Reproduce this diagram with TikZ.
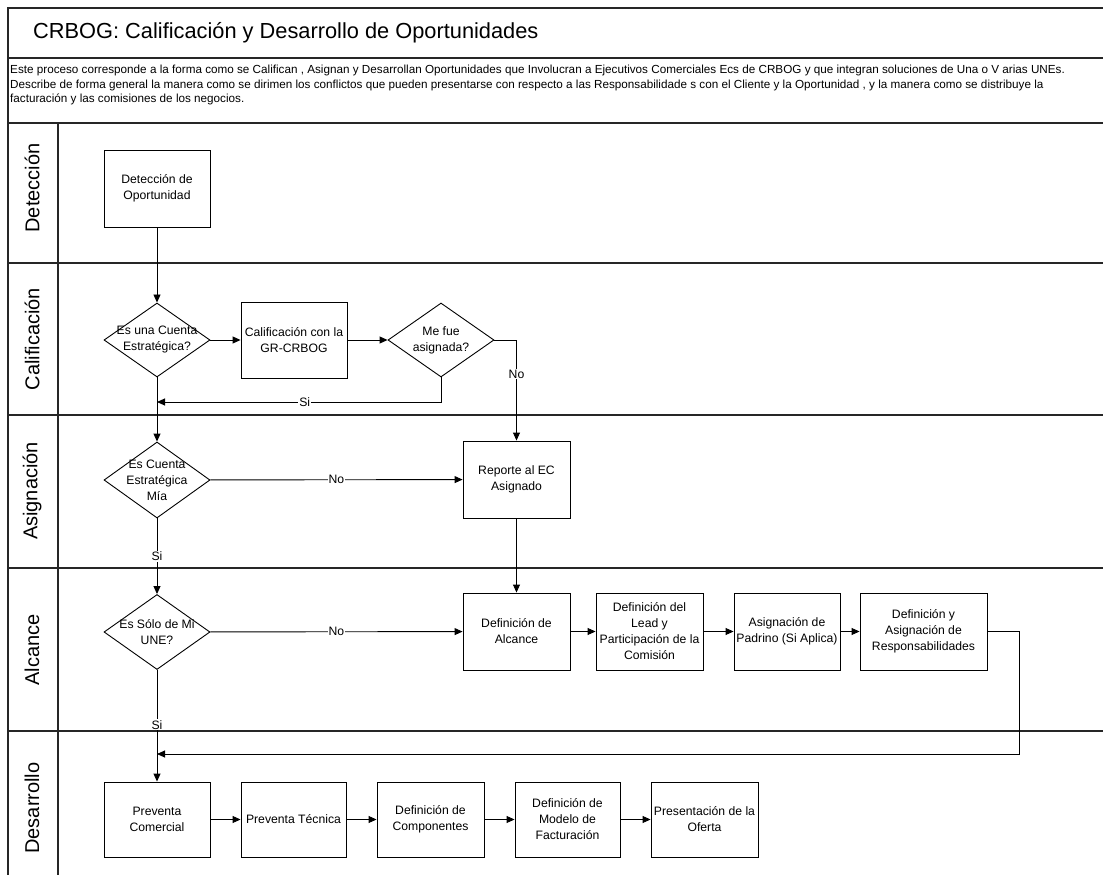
\documentclass[tikz,border=0pt]{standalone}
\usepackage{fontspec}
\setmainfont{Liberation Sans}
\usetikzlibrary{shapes.geometric,arrows.meta}
\tikzset{
  lane/.style={line width=1.1pt, draw=black!85},
  boxnode/.style={draw, line width=0.9pt, align=center, font=\fontsize{12.2}{16}\selectfont, inner sep=1pt},
  dia/.style={draw, diamond, line width=0.9pt, inner sep=0pt},
  dtext/.style={align=center, font=\fontsize{12.2}{16}\selectfont},
  arr/.style={line width=0.9pt, -{Triangle[length=8pt,width=7pt]}},
  lbl/.style={fill=white, inner sep=1pt, font=\fontsize{12.2}{13}\selectfont},
  lanelabel/.style={rotate=90, font=\fontsize{20}{22}\selectfont}
}
\begin{document}
\begin{tikzpicture}[x=1pt,y=-1pt]
\useasboundingbox (0,0) rectangle (1103,875);
% frame
\draw[lane] (1103,8) -- (8,8) -- (8,875);
\draw[lane] (8,58) -- (1103,58);
\draw[lane] (8,123) -- (1103,123);
\draw[lane] (8,263) -- (1103,263);
\draw[lane] (8,415) -- (1103,415);
\draw[lane] (8,568) -- (1103,568);
\draw[lane] (8,731) -- (1103,731);
\draw[lane] (58,123) -- (58,875);
% title and description
\node[anchor=west, font=\fontsize{21.8}{26}\selectfont, inner sep=0pt] (title) at (33,33) {CRBOG: Calificación y Desarrollo de Oportunidades};
\node[anchor=north west, align=left, inner sep=0pt, font=\fontsize{11.7}{14.5}\selectfont] (desc) at (10,65) {Este proceso corresponde a la forma como se Califican , Asignan y Desarrollan Oportunidades que Involucran a Ejecutivos Comerciales Ecs de CRBOG y que integran soluciones de Una o V arias UNEs.\\
Describe de forma general la manera como se dirimen los conflictos que pueden presentarse con respecto a las Responsabilidade s con el Cliente y la Oportunidad , y la manera como se distribuye la\\
facturación y las comisiones de los negocios.};
% lane labels
\node[lanelabel] (l1) at (32,188) {Detección};
\node[lanelabel] (l2) at (32,339) {Calificación};
\node[lanelabel] (l3) at (32,491) {Asignación};
\node[lanelabel] (l4) at (32,650) {Alcance};
\node[lanelabel] (l5) at (32,808) {Desarrollo};
% nodes
\node[boxnode, minimum width=106, minimum height=77] (det) at (157,188.5) {Detección de\\Oportunidad};
\node[dia, minimum width=106, minimum height=74, label={[dtext]center:Es una Cuenta\\Estratégica?}] (q1) at (157,340) {};
\node[boxnode, minimum width=106, minimum height=76] (cal) at (294,340) {Calificación con la\\GR-CRBOG};
\node[dia, minimum width=106, minimum height=74, label={[dtext]center:Me fue\\asignada?}] (q2) at (441,340) {};
\node[dia, minimum width=106, minimum height=76, label={[dtext]center:Es Cuenta\\Estratégica\\Mía}] (q3) at (157,480) {};
\node[boxnode, minimum width=107, minimum height=77] (rep) at (516.5,479.5) {Reporte al EC\\Asignado};
\node[dia, minimum width=106, minimum height=75, label={[dtext]center:Es Sólo de Mi\\UNE?}] (q4) at (157,632) {};
\node[boxnode, minimum width=107, minimum height=77] (alc) at (516.5,631.5) {Definición de\\Alcance};
\node[boxnode, minimum width=107, minimum height=77] (lead) at (649.5,631.5) {Definición del\\Lead y\\Participación de la\\Comisión};
\node[boxnode, minimum width=106, minimum height=77] (pad) at (787,631.5) {Asignación de\\Padrino (Si Aplica)};
\node[boxnode, minimum width=127, minimum height=77] (resp) at (923.5,631.5) {Definición y\\Asignación de\\Responsabilidades};
\node[boxnode, minimum width=106, minimum height=75] (pc) at (157,819.5) {Preventa\\Comercial};
\node[boxnode, minimum width=105, minimum height=75] (pt) at (293.5,819.5) {Preventa Técnica};
\node[boxnode, minimum width=107, minimum height=75] (dc) at (430.5,819.5) {Definición de\\Componentes};
\node[boxnode, minimum width=105, minimum height=75] (dm) at (567.5,819.5) {Definición de\\Modelo de\\Facturación};
\node[boxnode, minimum width=107, minimum height=75] (po) at (704.5,819.5) {Presentación de la\\Oferta};
% helper coordinates
\coordinate (siA) at (157,402);
\coordinate (loopC) at (157,754);
% connectors
\draw[arr] (det) -- (q1);
\draw[arr] (q1) -- (cal);
\draw[arr] (cal) -- (q2);
\draw[arr] (q2.east) -| (rep.north) node[lbl, pos=0.67] (no1) {No};
\draw[arr] (q2.south) |- (siA) node[lbl, pos=0.74] (si1) {Si};
\draw[arr] (q1) -- (q3);
\draw[arr] (q3) -- (rep) node[lbl, midway] (no2) {No};
\draw[arr] (q3) -- (q4) node[lbl, midway] (si2) {Si};
\draw[arr] (rep) -- (alc);
\draw[arr] (q4) -- (alc) node[lbl, midway] (no3) {No};
\draw[arr] (alc) -- (lead);
\draw[arr] (lead) -- (pad);
\draw[arr] (pad) -- (resp);
\draw[arr] (resp.east) -- ++(32,0) |- (loopC);
\draw[arr] (q4) -- (pc) node[lbl, pos=0.49] (si3) {Si};
\draw[arr] (pc) -- (pt);
\draw[arr] (pt) -- (dc);
\draw[arr] (dc) -- (dm);
\draw[arr] (dm) -- (po);
\end{tikzpicture}
\end{document}
